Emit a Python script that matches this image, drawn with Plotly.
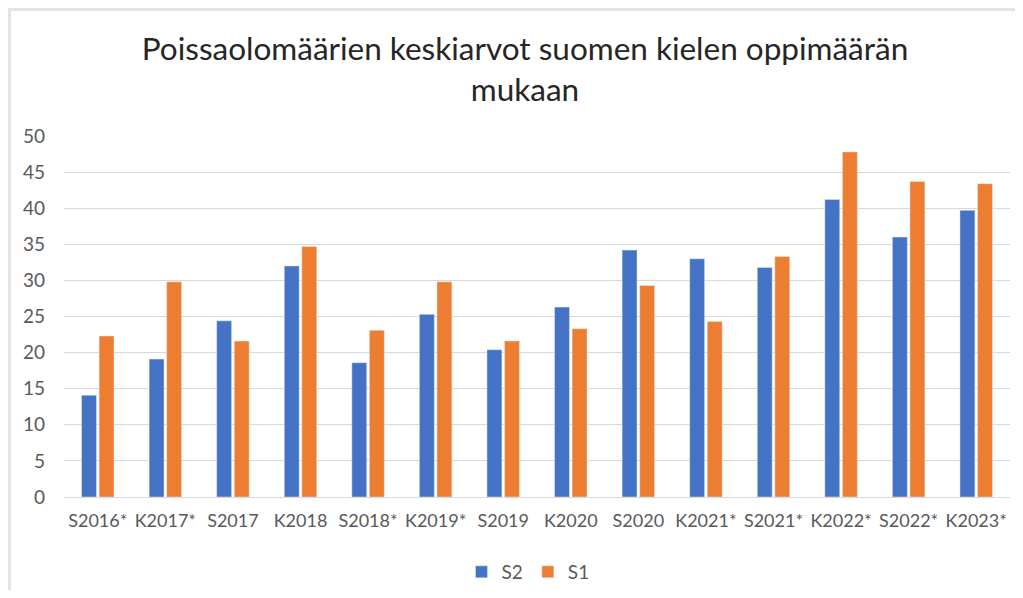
import plotly.graph_objects as go

categories = ["S2016*", "K2017*", "S2017", "K2018", "S2018*", "K2019*", "S2019",
              "K2020", "S2020", "K2021*", "S2021*", "K2022*", "S2022*", "K2023*"]
s2_values = [14.1, 19.1, 24.4, 32.0, 18.6, 25.3, 20.4, 26.3, 34.2, 33.0, 31.8, 41.2, 36.0, 39.7]
s1_values = [22.3, 29.8, 21.6, 34.7, 23.1, 29.8, 21.6, 23.3, 29.3, 24.3, 33.3, 47.8, 43.7, 43.4]
y_ticks = [0, 5, 10, 15, 20, 25, 30, 35, 40, 45, 50]

title_text = "Poissaolomäärien keskiarvot suomen kielen oppimäärän<br>mukaan"

font_family = "Lato, Open Sans, sans-serif"

fig = go.Figure()
fig.add_trace(go.Bar(name="S2", x=categories, y=s2_values, marker_color="#4472C4"))
fig.add_trace(go.Bar(name="S1", x=categories, y=s1_values, marker_color="#ED7D31"))

# page body has an 8px default margin, so the figure is drawn 8px in from the window corner
OFF = 8
W, H = 1023 - 2 * OFF, 598 - 2 * OFF
L, R, T, B = 64 - OFF, (OFF + W) - 1010, 136 - OFF, (OFF + H) - 497
pw, ph = W - L - R, H - T - B

def px_to_paper_x(px):
    return (px - OFF - L) / pw

def px_to_paper_y(py):
    return (H - B - (py - OFF)) / ph

fig.update_layout(
    width=W, height=H,
    margin=dict(l=L, r=R, t=T, b=B, autoexpand=False),
    paper_bgcolor="white", plot_bgcolor="white",
    barmode="group", bargap=0.48, bargroupgap=0.15,
    font=dict(family=font_family, color="#595959", size=19),
    title=dict(text=title_text, x=(525 - OFF) / W, xanchor="center", y=1 - (60 - OFF) / H,
               yanchor="middle", font=dict(family=font_family, size=31.5, color="#262626")),
    xaxis=dict(showgrid=False, showline=True, linecolor="#d9d9d9", linewidth=1,
               ticks="", tickfont=dict(size=18, color="#595959"), tickangle=0,
               ticklabelstandoff=7, automargin=False),
    yaxis=dict(range=[0, 50], tickvals=y_ticks, showgrid=True, gridcolor="#d9d9d9",
               gridwidth=1, zeroline=False, showline=False, ticks="",
               tickfont=dict(size=19, color="#595959"), ticklabelstandoff=18, automargin=False),
    legend=dict(orientation="h", x=px_to_paper_x(528), xanchor="center",
                y=px_to_paper_y(572), yanchor="middle",
                font=dict(size=19, color="#595959"), itemwidth=30, traceorder="normal"),
    shapes=[
        dict(type="line", xref="paper", yref="paper",
             x0=px_to_paper_x(9.5), x1=px_to_paper_x(9.5), y0=px_to_paper_y(9.5), y1=px_to_paper_y(600),
             line=dict(color="#e3e3e3", width=3)),
        dict(type="line", xref="paper", yref="paper",
             x0=px_to_paper_x(8), x1=px_to_paper_x(1030), y0=px_to_paper_y(9.5), y1=px_to_paper_y(9.5),
             line=dict(color="#e3e3e3", width=3)),
    ],
)

fig.write_html("out.html")
